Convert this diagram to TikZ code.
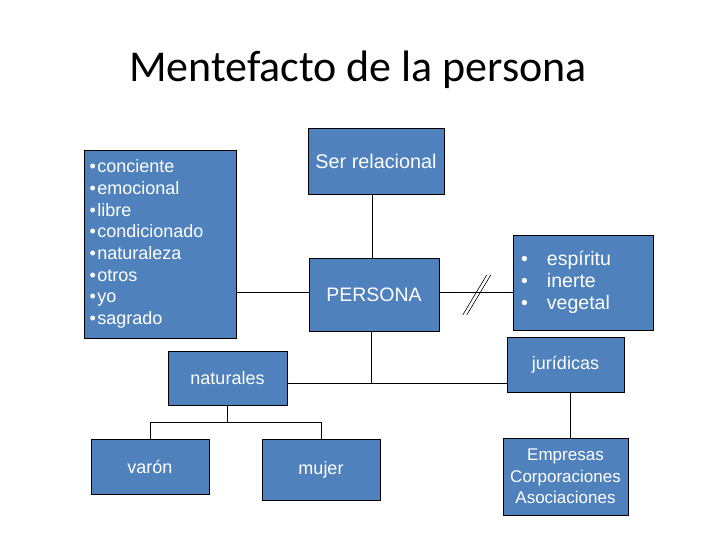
\documentclass[tikz,border=0pt]{standalone}
\usepackage{fontspec}
\setmainfont{Liberation Sans}
\newfontfamily\titulofont{Carlito}
\definecolor{azul}{HTML}{4F81BD}
\newcommand{\punto}{•\hspace{1.5pt}}

\begin{document}
\begin{tikzpicture}[x=1pt, y=-1pt,
    caja/.style={draw, fill=azul, line width=0.9pt, text=white, inner sep=0pt, align=center},
    linea/.style={line width=0.9pt}]
    \useasboundingbox (0,0) rectangle (720,540);

    \node[anchor=base] (titulo) at (358,82) {\titulofont\fontsize{44}{52}\selectfont Mentefacto de la persona};

    % cajas
    \node[caja, align=left, text width=141pt, inner xsep=5.5pt, minimum height=188pt,
        font=\fontsize{18}{21.7}\selectfont] (lista) at (160,244)
        {\punto conciente\\ \punto emocional\\ \punto libre\\ \punto condicionado\\ \punto naturaleza\\ \punto otros\\ \punto yo\\ \punto sagrado};
    \node[caja, minimum width=136pt, minimum height=66pt, font=\fontsize{19.8}{22}\selectfont] (ser) at (376,161) {Ser relacional};
    \node[caja, minimum width=130pt, minimum height=73pt, font=\fontsize{19.5}{22}\selectfont] (persona) at (374,294.5) {PERSONA};
    \node[caja, align=left, text width=124pt, inner xsep=8pt, minimum height=95pt,
        font=\fontsize{19.5}{22.2}\selectfont] (otros) at (583,282.5)
        {\makebox[26pt][l]{•}espíritu\\ \makebox[26pt][l]{•}inerte\\ \makebox[26pt][l]{•}vegetal};
    \node[caja, minimum width=119pt, minimum height=54pt, font=\fontsize{18}{22}\selectfont] (naturales) at (227.5,378) {naturales};
    \node[caja, minimum width=117pt, minimum height=55pt, font=\fontsize{18}{22}\selectfont] (juridicas) at (565.5,365) {jurídicas};
    \node[caja, minimum width=118pt, minimum height=55pt, font=\fontsize{18}{22}\selectfont] (varon) at (150,466.5) {varón};
    \node[caja, minimum width=118pt, minimum height=61pt, font=\fontsize{18}{22}\selectfont] (mujer) at (321,469.5) {mujer};
    \node[caja, minimum width=125pt, minimum height=77pt, font=\fontsize{17}{21.7}\selectfont] (empresas) at (565.5,476.5)
        {Empresas\\ Corporaciones\\ Asociaciones};

    % enlaces
    \coordinate (enlace) at (371,383);
    \coordinate (rama) at (227,422);
    \draw[linea] (lista.east |- 0,292) -- (persona.west |- 0,292);
    \draw[linea] (ser.south -| 372,0) -- (persona.north -| 372,0);
    \draw[linea] (persona.east |- 0,292) -- (otros.west |- 0,292);
    \foreach \dx in {0,4}
        \draw[line width=0.6pt] (462.7+\dx,315) -- (486.7+\dx,275);
    \draw[linea] (persona.south -| enlace) -- (enlace);
    \draw[linea] (naturales.east |- enlace) -- (juridicas.west |- enlace);
    \draw[linea] (naturales.south -| rama) -- (rama);
    \draw[linea] (varon.north) -- (varon.north |- rama) -- (mujer.north |- rama) -- (mujer.north);
    \draw[linea] (juridicas.south -| 570,0) -- (empresas.north -| 570,0);
\end{tikzpicture}
\end{document}
